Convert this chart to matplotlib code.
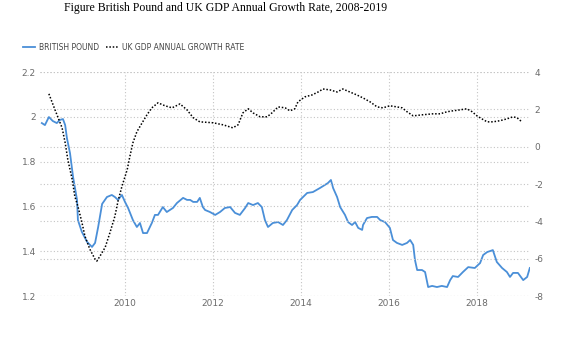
import matplotlib
matplotlib.use("Agg")
import matplotlib.pyplot as plt

plt.rcParams["axes.unicode_minus"] = False

# British pound (left axis), decimal years
gbp_year = [2008.11, 2008.18, 2008.27, 2008.36, 2008.45, 2008.52, 2008.59, 2008.64, 2008.68, 2008.75,
            2008.82, 2008.91, 2008.93, 2009.02, 2009.14, 2009.25, 2009.32, 2009.39, 2009.48, 2009.59,
            2009.70, 2009.77, 2009.84, 2009.93, 2010.00, 2010.07, 2010.18, 2010.27, 2010.34, 2010.41,
            2010.50, 2010.61, 2010.68, 2010.75, 2010.86, 2010.95, 2011.02, 2011.09, 2011.18, 2011.32,
            2011.41, 2011.48, 2011.55, 2011.64, 2011.70, 2011.77, 2011.82, 2011.93, 2012.05, 2012.16,
            2012.27, 2012.39, 2012.50, 2012.61, 2012.73, 2012.80, 2012.91, 2013.02, 2013.11, 2013.18,
            2013.25, 2013.36, 2013.48, 2013.59, 2013.68, 2013.80, 2013.91, 2013.98, 2014.14, 2014.27,
            2014.43, 2014.61, 2014.68, 2014.73, 2014.82, 2014.89, 2015.00, 2015.07, 2015.16, 2015.23,
            2015.30, 2015.39, 2015.41, 2015.50, 2015.61, 2015.73, 2015.80, 2015.91, 2016.02, 2016.09,
            2016.18, 2016.30, 2016.41, 2016.48, 2016.55, 2016.59, 2016.64, 2016.75, 2016.82, 2016.89,
            2016.98, 2017.09, 2017.20, 2017.32, 2017.39, 2017.45, 2017.57, 2017.68, 2017.80, 2017.95,
            2018.07, 2018.14, 2018.23, 2018.36, 2018.45, 2018.57, 2018.68, 2018.75, 2018.82, 2018.93,
            2019.05, 2019.14, 2019.20]
gbp_value = [1.972, 1.963, 1.999, 1.981, 1.972, 1.986, 1.990, 1.963, 1.905, 1.838,
             1.731, 1.629, 1.539, 1.486, 1.441, 1.419, 1.437, 1.508, 1.611, 1.642,
             1.651, 1.642, 1.629, 1.651, 1.620, 1.593, 1.539, 1.508, 1.526, 1.481,
             1.481, 1.526, 1.562, 1.562, 1.597, 1.575, 1.584, 1.593, 1.615, 1.638,
             1.629, 1.629, 1.620, 1.620, 1.638, 1.597, 1.584, 1.575, 1.562, 1.575,
             1.593, 1.597, 1.571, 1.562, 1.593, 1.615, 1.606, 1.615, 1.597, 1.539,
             1.508, 1.526, 1.530, 1.517, 1.539, 1.584, 1.606, 1.629, 1.660, 1.664,
             1.682, 1.704, 1.718, 1.682, 1.642, 1.597, 1.562, 1.530, 1.517, 1.530,
             1.504, 1.495, 1.517, 1.548, 1.553, 1.553, 1.539, 1.530, 1.504, 1.450,
             1.437, 1.428, 1.437, 1.450, 1.428, 1.361, 1.316, 1.316, 1.307, 1.240,
             1.245, 1.240, 1.245, 1.240, 1.271, 1.289, 1.285, 1.307, 1.329, 1.325,
             1.347, 1.383, 1.396, 1.405, 1.352, 1.325, 1.307, 1.285, 1.303, 1.303,
             1.271, 1.285, 1.325]

# UK GDP annual growth rate (right axis, %)
gdp_year = [2008.27, 2008.34, 2008.41, 2008.48, 2008.57, 2008.64, 2008.70, 2008.80, 2008.86, 2008.93,
            2009.02, 2009.09, 2009.20, 2009.32, 2009.36, 2009.43, 2009.55, 2009.66, 2009.77, 2009.84,
            2009.93, 2010.05, 2010.11, 2010.18, 2010.27, 2010.39, 2010.50, 2010.61, 2010.75, 2010.91,
            2011.07, 2011.25, 2011.41, 2011.55, 2011.70, 2012.00, 2012.23, 2012.45, 2012.57, 2012.68,
            2012.80, 2012.91, 2013.07, 2013.23, 2013.34, 2013.48, 2013.64, 2013.75, 2013.86, 2013.93,
            2014.09, 2014.25, 2014.39, 2014.50, 2014.66, 2014.82, 2014.95, 2015.11, 2015.27, 2015.41,
            2015.57, 2015.73, 2015.86, 2016.02, 2016.18, 2016.30, 2016.41, 2016.48, 2016.55, 2016.77,
            2017.00, 2017.16, 2017.32, 2017.45, 2017.61, 2017.77, 2017.89, 2018.00, 2018.11, 2018.23,
            2018.36, 2018.52, 2018.68, 2018.82, 2018.91, 2019.02]
gdp_value = [2.83, 2.40, 1.97, 1.55, 1.01, 0.21, -0.69, -1.76, -2.67, -3.20,
             -4.05, -4.80, -5.49, -6.03, -6.13, -5.87, -5.39, -4.59, -3.73, -2.93,
             -2.13, -1.23, -0.53, 0.21, 0.80, 1.28, 1.71, 2.08, 2.35, 2.19,
             2.08, 2.29, 1.97, 1.55, 1.33, 1.28, 1.17, 1.01, 1.17, 1.81,
             2.03, 1.81, 1.60, 1.60, 1.81, 2.13, 2.08, 1.92, 2.03, 2.40,
             2.67, 2.77, 2.93, 3.09, 3.04, 2.93, 3.09, 2.93, 2.77, 2.61,
             2.40, 2.13, 2.08, 2.19, 2.13, 2.08, 1.87, 1.76, 1.65, 1.71,
             1.76, 1.76, 1.87, 1.92, 1.97, 2.03, 1.87, 1.65, 1.49, 1.33,
             1.33, 1.39, 1.49, 1.60, 1.55, 1.33]

year_ticks = [2010, 2012, 2014, 2016, 2018]
left_ticks = [1.2, 1.4, 1.6, 1.8, 2.0, 2.2]
left_labels = ["1.2", "1.4", "1.6", "1.8", "2", "2.2"]
right_ticks = [-8, -6, -4, -2, 0, 2, 4]

W, H = 579, 337
fig = plt.figure(figsize=(W / 100, H / 100), dpi=100)
ax = fig.add_axes([40 / W, 1 - 296 / H, 490 / W, 224 / H])
ax2 = ax.twinx()

grid_kw = dict(color="#c4c4c4", linestyle=(0, (1, 2)), linewidth=0.8)
tick_color = "#6b6b6b"

ax.plot(gbp_year, gbp_value, color="#4a8fd8", lw=1.3, label="BRITISH POUND", zorder=3)
ax2.plot(gdp_year, gdp_value, color="black", lw=1.1, linestyle=(0, (1, 1.2)),
         label="UK GDP ANNUAL GROWTH RATE", zorder=3)

ax.set_xlim(2008 + 3 / 44, 2008 + 493 / 44)
ax.set_ylim(1.2, 2.2)
ax2.set_ylim(-8, 4)
ax.set_xticks(year_ticks)
ax.set_xticklabels([str(y) for y in year_ticks])
ax.set_yticks(left_ticks)
ax.set_yticklabels(left_labels)
ax2.set_yticks(right_ticks)

ax.grid(True, **grid_kw)
ax2.grid(True, axis="y", **grid_kw)
ax.set_axisbelow(True)

for a in (ax, ax2):
    for s in a.spines.values():
        s.set_visible(False)
    a.tick_params(length=0, labelsize=6.5, colors=tick_color, pad=3)
ax.tick_params(axis="x", pad=2)

# legend along the top left
h1, l1 = ax.get_legend_handles_labels()
h2, l2 = ax2.get_legend_handles_labels()
fig.legend(h1 + h2, l1 + l2, loc="center left", bbox_to_anchor=(16 / W, 1 - 47 / H),
           ncol=2, frameon=False, fontsize=5.5, handlelength=1.6, handletextpad=0.5,
           columnspacing=0.9, labelcolor="#444444")

fig.text(226 / W, 1 - 8 / H, "Figure British Pound and UK GDP Annual Growth Rate, 2008-2019",
         ha="center", va="center", fontsize=8.5, family="Liberation Serif")

fig.savefig("out.png", dpi=100)
